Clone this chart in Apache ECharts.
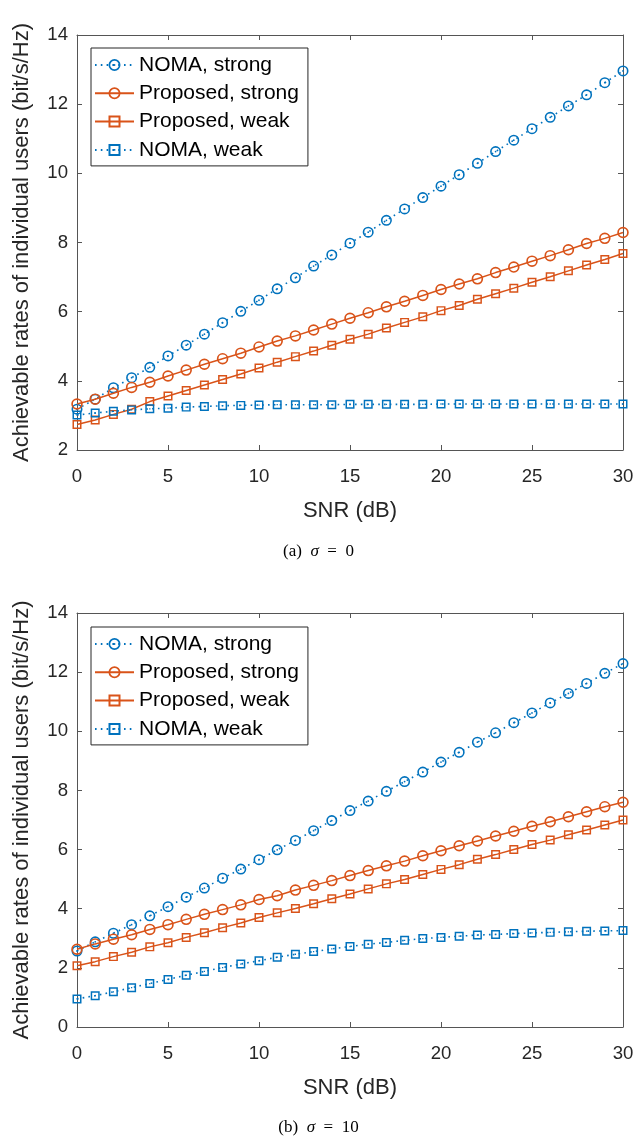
<!DOCTYPE html>
<html><head><meta charset="utf-8">
<script src="https://cdn.jsdelivr.net/npm/echarts@6/dist/echarts.min.js"></script>
<style>html,body{margin:0;padding:0;background:#fff}#c{width:637px;height:1140px}</style>
</head><body><div id="c"></div>
<script>
// ---------- DATA ----------
const snr = [0,1,2,3,4,5,6,7,8,9,10,11,12,13,14,15,16,17,18,19,20,21,22,23,24,25,26,27,28,29,30];
const seriesNames = ['NOMA, strong', 'Proposed, strong', 'Proposed, weak', 'NOMA, weak'];
const xTicks = [0, 5, 10, 15, 20, 25, 30];

// (a) sigma = 0
const aNomaStrong = [3.18,3.47,3.80,4.09,4.39,4.72,5.03,5.35,5.68,6.01,6.33,6.66,6.98,7.32,7.64,7.98,8.30,8.64,8.97,9.30,9.63,9.96,10.29,10.63,10.96,11.29,11.62,11.95,12.27,12.62,12.96];
const aPropStrong = [3.33,3.47,3.64,3.81,3.96,4.14,4.31,4.48,4.64,4.80,4.98,5.15,5.30,5.47,5.64,5.81,5.97,6.14,6.30,6.47,6.64,6.80,6.95,7.13,7.29,7.46,7.62,7.79,7.97,8.12,8.29];
const aPropWeak = [2.74,2.87,3.03,3.18,3.40,3.56,3.72,3.88,4.04,4.20,4.37,4.54,4.70,4.86,5.03,5.20,5.35,5.53,5.69,5.85,6.03,6.18,6.36,6.52,6.68,6.85,7.01,7.18,7.35,7.51,7.68];
const aNomaWeak = [3.01,3.07,3.12,3.16,3.19,3.21,3.24,3.26,3.28,3.29,3.30,3.31,3.31,3.31,3.31,3.32,3.32,3.32,3.32,3.32,3.33,3.33,3.33,3.33,3.33,3.33,3.33,3.33,3.33,3.33,3.33];

// (b) sigma = 10
const bNomaStrong = [2.57,2.88,3.17,3.46,3.76,4.07,4.39,4.70,5.03,5.34,5.66,5.99,6.31,6.64,6.98,7.32,7.64,7.97,8.30,8.62,8.96,9.29,9.63,9.95,10.29,10.62,10.96,11.28,11.62,11.96,12.29];
const bPropStrong = [2.63,2.81,2.97,3.12,3.30,3.46,3.64,3.81,3.97,4.13,4.31,4.44,4.63,4.79,4.95,5.12,5.29,5.45,5.61,5.79,5.96,6.13,6.29,6.46,6.62,6.79,6.94,7.11,7.28,7.45,7.60];
const bPropWeak = [2.07,2.21,2.38,2.53,2.71,2.85,3.03,3.19,3.36,3.52,3.70,3.86,4.01,4.17,4.34,4.50,4.67,4.84,4.99,5.16,5.33,5.49,5.67,5.83,6.00,6.17,6.32,6.50,6.66,6.83,7.00];
const bNomaWeak = [0.95,1.06,1.19,1.33,1.47,1.61,1.75,1.88,2.01,2.13,2.24,2.36,2.46,2.55,2.64,2.72,2.80,2.86,2.93,2.99,3.03,3.07,3.11,3.13,3.16,3.18,3.20,3.22,3.24,3.25,3.26];

const yTicksA = [2, 4, 6, 8, 10, 12, 14];
const yTicksB = [0, 2, 4, 6, 8, 10, 12, 14];

// ---------- STYLE ----------
const BLUE = '#0072BD', ORANGE = '#D95319';
const AX = '#555555', TXT = '#262626';
const FONT = 'Liberation Sans';
const ringDot = 'path://M10,0 A10,10 0 1,1 10,20 A10,10 0 1,1 10,0 Z M10,2.9 A7.1,7.1 0 1,0 10,17.1 A7.1,7.1 0 1,0 10,2.9 Z M10,8.4 A1.6,1.6 0 1,1 10,11.6 A1.6,1.6 0 1,1 10,8.4 Z';
const ring = 'path://M10,0 A10,10 0 1,1 10,20 A10,10 0 1,1 10,0 Z M10,2.9 A7.1,7.1 0 1,0 10,17.1 A7.1,7.1 0 1,0 10,2.9 Z';
const sqDot = 'path://M0,0 L20,0 L20,20 L0,20 Z M3.3,3.3 L3.3,16.7 L16.7,16.7 L16.7,3.3 Z M8.6,8.6 L11.4,8.6 L11.4,11.4 L8.6,11.4 Z';
const sq = 'path://M0,0 L20,0 L20,20 L0,20 Z M3.3,3.3 L3.3,16.7 L16.7,16.7 L16.7,3.3 Z';

const styles = [
  {color: BLUE, symbol: ringDot, size: 11, dotted: true},
  {color: ORANGE, symbol: ring, size: 11.5, dotted: false},
  {color: ORANGE, symbol: sq, size: 9, dotted: false},
  {color: BLUE, symbol: sqDot, size: 9, dotted: true}
];

function pairs(ys) { return snr.map((x, i) => [x, ys[i]]); }

function makeSeries(gi, arrays) {
  return arrays.map((ys, k) => {
    const s = styles[k];
    return {
      name: seriesNames[k], type: 'line', xAxisIndex: gi * 2, yAxisIndex: gi * 2,
      data: pairs(ys), symbol: s.symbol, symbolSize: s.size, symbolKeepAspect: true,
      showAllSymbol: true, animation: false, z: 2 + k,
      lineStyle: {color: s.color, width: s.dotted ? 1.6 : 1.5, type: s.dotted ? [1.6, 4.2] : 'solid'},
      itemStyle: {color: s.color},
      emphasis: {disabled: true}
    };
  });
}

const grids = [
  {left: 77, top: 35, width: 546, height: 415},
  {left: 77, top: 613, width: 546, height: 414}
];

function axesFor(gi, yMin) {
  const common = {
    gridIndex: gi, type: 'value',
    axisLine: {show: true, onZero: false, lineStyle: {color: AX, width: 1}},
    axisTick: {show: true, inside: true, length: 5, lineStyle: {color: AX, width: 1}},
    splitLine: {show: false}
  };
  const xs = [
    Object.assign({}, common, {
      min: 0, max: 30, interval: 5, position: 'bottom',
      axisLabel: {fontSize: 18.6, color: TXT, fontFamily: FONT, margin: 17},
      name: 'SNR (dB)', nameLocation: 'middle', nameGap: 50,
      nameTextStyle: {fontSize: 22, color: TXT, fontFamily: FONT}
    }),
    Object.assign({}, common, {
      min: 0, max: 30, interval: 5, position: 'top', axisLabel: {show: false}
    })
  ];
  const ys = [
    Object.assign({}, common, {
      min: yMin, max: 14, interval: 2, position: 'left',
      axisLabel: {fontSize: 18.6, color: TXT, fontFamily: FONT, margin: 9},
      name: 'Achievable rates of individual users (bit/s/Hz)', nameLocation: 'middle', nameGap: 44,
      nameTextStyle: {fontSize: 22, color: TXT, fontFamily: FONT}
    }),
    Object.assign({}, common, {
      min: yMin, max: 14, interval: 2, position: 'right', axisLabel: {show: false}
    })
  ];
  return {xs, ys};
}

const a0 = axesFor(0, yTicksA[0]);
const a1 = axesFor(1, yTicksB[0]);

function legendFor(top) {
  return {
    left: 91, top: top, orient: 'vertical', data: seriesNames,
    itemWidth: 39, itemHeight: 15, itemGap: 7.3, itemTextGap: 5,
    padding: [6.5, 9, 5.5, 3],
    borderColor: '#262626', borderWidth: 1, backgroundColor: '#fff',
    textStyle: {fontSize: 21, color: '#000', fontFamily: FONT},
    selectedMode: false
  };
}

const caption = (label, val, y) => ({
  type: 'text', left: 'center', top: y,
  style: {
    text: '{n|' + label + '  }{s|σ}{n|  =  ' + val + '}',
    rich: {
      n: {fontFamily: 'Liberation Serif', fontSize: 17, fill: '#000'},
      s: {fontFamily: 'Liberation Serif', fontStyle: 'italic', fontSize: 17, fill: '#000'}
    }
  }
});

const option = {
  backgroundColor: '#fff',
  animation: false,
  grid: grids,
  xAxis: a0.xs.concat(a1.xs),
  yAxis: a0.ys.concat(a1.ys),
  legend: [legendFor(48), legendFor(627)],
  series: makeSeries(0, [aNomaStrong, aPropStrong, aPropWeak, aNomaWeak])
    .concat(makeSeries(1, [bNomaStrong, bPropStrong, bPropWeak, bNomaWeak])),
  graphic: [caption('(a)', '0', 543), caption('(b)', '10', 1119.5)]
};

const chart = echarts.init(document.getElementById('c'), null, {renderer: 'canvas'});
chart.setOption(option);
</script>
</body></html>
